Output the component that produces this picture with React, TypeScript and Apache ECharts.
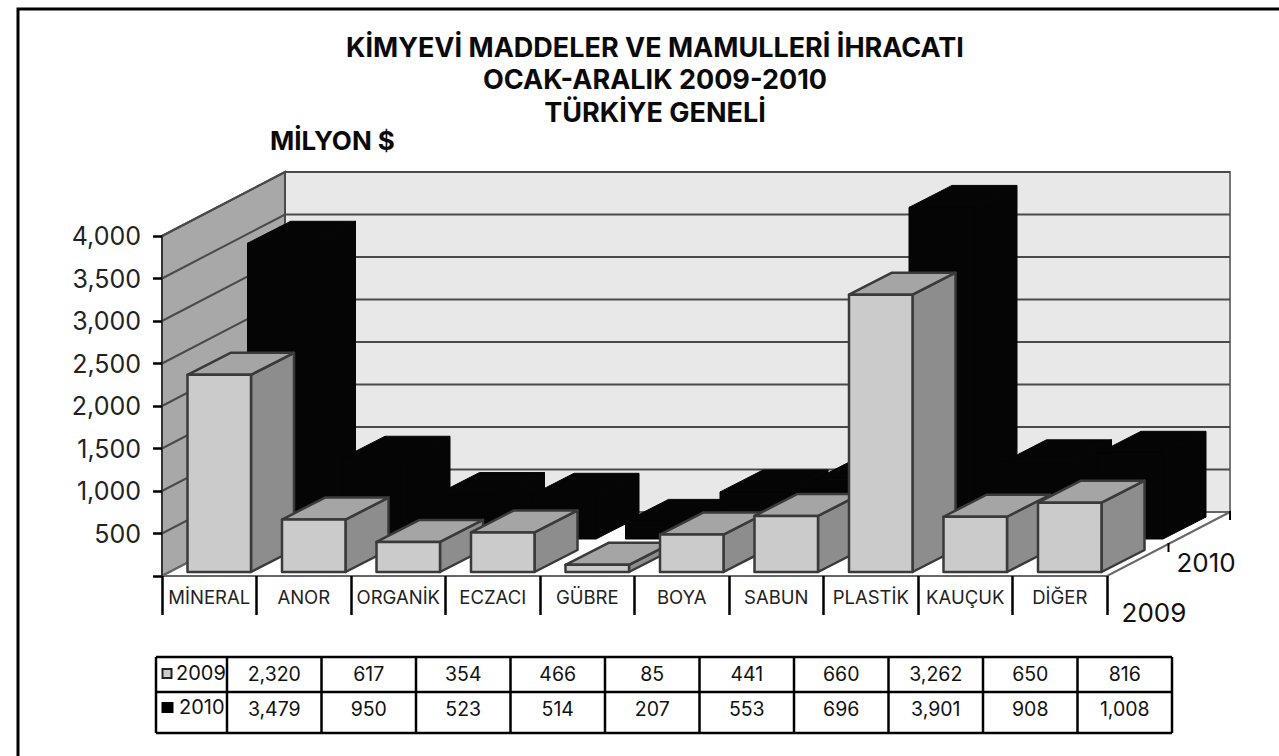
import React, { useEffect, useRef } from "react";
import * as echarts from "echarts";

const categories = ["MİNERAL", "ANOR", "ORGANİK", "ECZACI", "GÜBRE", "BOYA", "SABUN", "PLASTİK", "KAUÇUK", "DİĞER"];
const values2009 = [2320, 617, 354, 466, 85, 441, 660, 3262, 650, 816];
const values2010 = [3479, 950, 523, 514, 207, 553, 696, 3901, 908, 1008];
const yTicks = [0, 500, 1000, 1500, 2000, 2500, 3000, 3500, 4000];
const table2009 = ["2,320", "617", "354", "466", "85", "441", "660", "3,262", "650", "816"];
const table2010 = ["3,479", "950", "523", "514", "207", "553", "696", "3,901", "908", "1,008"];
const titleLines = ["KİMYEVİ MADDELER VE MAMULLERİ İHRACATI", "OCAK-ARALIK 2009-2010", "TÜRKİYE GENELİ"];

const FONT = "Inter";
const BOLD = "Inter";
const DX = 123, DY = 64;
const LINE = "#4a4a4a";

const fmt = (v: number) => (v === 0 ? "" : v.toLocaleString("en-US"));

function wallsRender(params: any, api: any) {
  const band = api.size([1, 0])[0];
  const p0 = api.coord([0, 0]);
  const x0 = p0[0] - band / 2;
  const x1 = x0 + band * categories.length;
  const yAt = (v: number) => api.coord([0, v])[1];
  const y0 = yAt(0), yTop = yAt(4000);
  const children: any[] = [
    { type: "polygon", shape: { points: [[x0 + DX, yTop - DY], [x1 + DX, yTop - DY], [x1 + DX, y0 - DY], [x0 + DX, y0 - DY]] },
      style: { fill: "#e8e8e8", stroke: "#777", lineWidth: 2 } },
    { type: "polygon", shape: { points: [[x0, yTop], [x0 + DX, yTop - DY], [x0 + DX, y0 - DY], [x0, y0]] },
      style: { fill: "#a8a8a8", stroke: LINE, lineWidth: 2 } },
    { type: "polygon", shape: { points: [[x0, y0], [x0 + DX, y0 - DY], [x1 + DX, y0 - DY], [x1, y0]] },
      style: { fill: "#fff", stroke: "#666", lineWidth: 2 } },
  ];
  yTicks.slice(1).forEach((t) => {
    const y = yAt(t);
    children.push({ type: "polyline", shape: { points: [[x0, y], [x0 + DX, y - DY], [x1 + DX, y - DY]] },
      style: { fill: "none", stroke: LINE, lineWidth: 2 } });
  });
  children.push({ type: "line", shape: { x1: x1 + DX, y1: y0 - DY - 1, x2: x1 + DX, y2: y0 - DY + 8 }, style: { stroke: "#000", lineWidth: 2 } });
  children.push({ type: "line", shape: { x1: x1 + DX / 2, y1: y0 - DY / 2 - 1, x2: x1 + DX / 2, y2: y0 - DY / 2 + 8 }, style: { stroke: "#000", lineWidth: 2 } });
  return { type: "group", children };
}

function barRender(offX: number, offY: number, w: number, front: string, top: string, side: string, stroke: string, lw: number) {
  return (params: any, api: any) => {
    const band = api.size([1, 0])[0];
    const base = api.coord([api.value(0), 0]);
    const head = api.coord([api.value(0), api.value(1)]);
    const l = base[0] - band / 2 + 25.5 + offX;
    const r = l + w;
    const b = base[1] - offY;
    const t = head[1] - offY;
    const dx = 43, dy = 22;
    const style = (fill: string) => ({ fill, stroke, lineWidth: lw, lineJoin: "round" });
    return {
      type: "group",
      children: [
        { type: "polygon", shape: { points: [[r, t], [r + dx, t - dy], [r + dx, b - dy], [r, b]] }, style: style(side) },
        { type: "polygon", shape: { points: [[l, t], [l + dx, t - dy], [r + dx, t - dy], [r, t]] }, style: style(top) },
        { type: "polygon", shape: { points: [[l, t], [r, t], [r, b], [l, b]] }, style: style(front) },
      ],
    };
  };
}

function buildTable() {
  const left = 156, labelRight = 227, colW = 94.5, top = 657, mid = 692, bottom = 733;
  const right = labelRight + colW * categories.length;
  const items: any[] = [];
  const ln = (x1: number, y1: number, x2: number, y2: number) =>
    items.push({ type: "line", z: 20, shape: { x1, y1, x2, y2 }, style: { stroke: "#000", lineWidth: 2.5 } });
  ln(left, top, right, top);
  ln(left, mid, right, mid);
  ln(left, bottom, right, bottom);
  ln(left, top, left, bottom);
  for (let i = 0; i <= categories.length; i++) ln(labelRight + colW * i, top, labelRight + colW * i, bottom);
  const txt = (x: number, y: number, text: string, size: number, align = "center") =>
    items.push({ type: "text", z: 20, x, y, style: { text, fill: "#111", font: `${size}px ${FONT}`, align, verticalAlign: "middle" } });
  table2009.forEach((s, i) => txt(labelRight + colW * (i + 0.5), 674, s, 19.5));
  table2010.forEach((s, i) => txt(labelRight + colW * (i + 0.5), 709, s, 19.5));
  txt(176, 673, "2009", 20, "left");
  txt(179, 707, "2010", 20, "left");
  items.push({ type: "rect", z: 20, shape: { x: 162.5, y: 669, width: 9, height: 9 }, style: { fill: "#ccc", stroke: "#222", lineWidth: 2 } });
  items.push({ type: "rect", z: 20, shape: { x: 161.5, y: 702, width: 12, height: 11 }, style: { fill: "#000" } });
  return items;
}

export default function App() {
  const ref = useRef<HTMLDivElement>(null);
  useEffect(() => {
    const chart = echarts.init(ref.current!, null, { renderer: "svg" });
    const titleY = [47, 79, 112];
    chart.setOption({
      animation: false,
      backgroundColor: "#fff",
      grid: { left: 162, top: 236, width: 945, height: 340 },
      xAxis: {
        type: "category",
        data: categories,
        z: 10,
        axisLine: { show: false },
        axisTick: { show: true, length: 39, lineStyle: { color: "#000", width: 2.5 } },
        axisLabel: { color: "#222", fontFamily: FONT, fontSize: 18.5, margin: 11, interval: 0 },
      },
      yAxis: {
        type: "value",
        min: 0,
        max: 4000,
        interval: 500,
        z: 10,
        splitLine: { show: false },
        axisLine: { show: true, lineStyle: { color: "#333", width: 2 } },
        axisTick: { show: true, length: 9, lineStyle: { color: "#000", width: 2.5 } },
        axisLabel: { color: "#222", fontFamily: FONT, fontSize: 25, margin: 21, padding: [5, 0, 0, 0], formatter: fmt },
      },
      series: [
        { type: "custom", name: "walls", coordinateSystem: "cartesian2d", renderItem: wallsRender, data: [[0, 0]], silent: true, z: 1 },
        { type: "custom", name: "2010", coordinateSystem: "cartesian2d", data: values2010.map((v, i) => [i, v]), z: 2,
          renderItem: barRender(60, 37, 65, "#050505", "#050505", "#050505", "#050505", 1), encode: { x: 0, y: 1 } },
        { type: "custom", name: "2009", coordinateSystem: "cartesian2d", data: values2009.map((v, i) => [i, v]), z: 3,
          renderItem: barRender(0, 4, 63.5, "#cbcbcb", "#a5a5a5", "#8d8d8d", "#3a3a3a", 2.5), encode: { x: 0, y: 1 } },
      ],
      graphic: [
        { type: "rect", z: 30, shape: { x: 18, y: 9, width: 1400, height: 1000 }, style: { fill: "none", stroke: "#000", lineWidth: 3 } },
        ...titleLines.map((t, i) => ({ type: "text", z: 20, x: 655, y: titleY[i], style: { text: t, fill: "#0a0a0a", font: `bold 27px ${BOLD}`, align: "center", verticalAlign: "middle" } })),
        { type: "text", z: 20, x: 270, y: 140, style: { text: "MİLYON $", fill: "#0a0a0a", font: `bold 26px ${BOLD}`, align: "left", verticalAlign: "middle" } },
        { type: "text", z: 20, x: 1206, y: 562, style: { text: "2010", fill: "#111", font: `26px ${FONT}`, align: "center", verticalAlign: "middle" } },
        { type: "text", z: 20, x: 1154, y: 612, style: { text: "2009", fill: "#111", font: `26px ${FONT}`, align: "center", verticalAlign: "middle" } },
        ...buildTable(),
      ],
    });
    return () => chart.dispose();
  }, []);
  return <div ref={ref} style={{ position: "fixed", left: 0, top: 0, width: 1279, height: 756 }} />;
}
